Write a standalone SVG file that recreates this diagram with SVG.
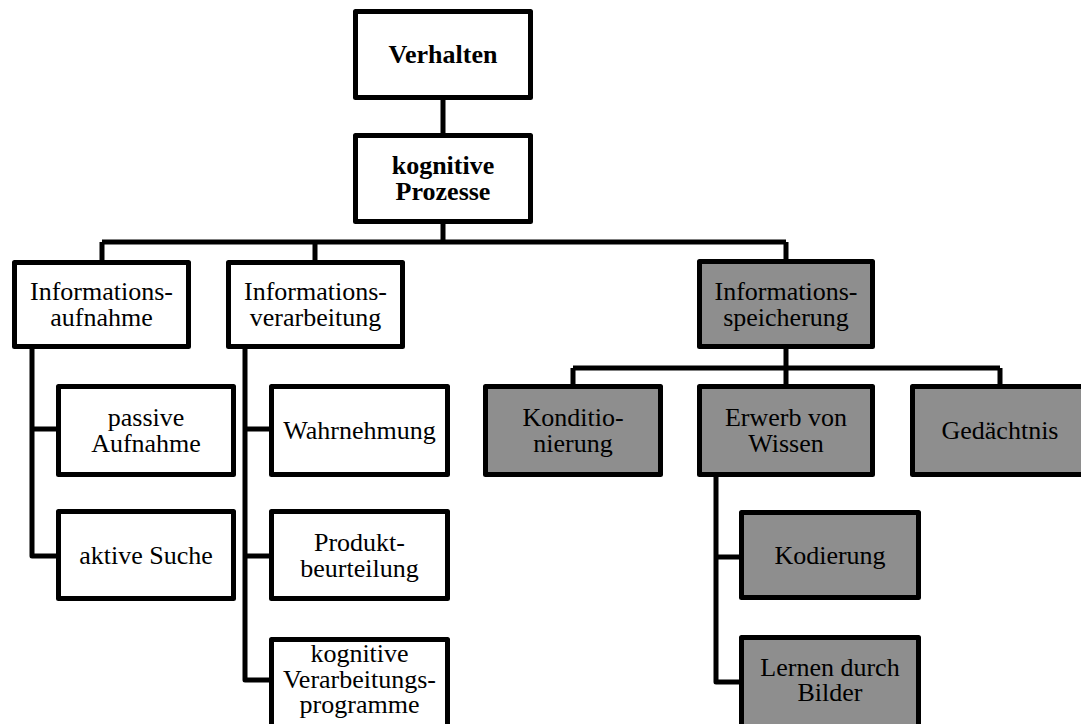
<svg xmlns="http://www.w3.org/2000/svg" width="1081" height="724" viewBox="0 0 1081 724">
<style>
.box{fill:#ffffff;stroke:#000;stroke-width:5;stroke-linejoin:round}
.grey{fill:#8e8e8e}
.c{fill:none;stroke:#000;stroke-width:5;stroke-linejoin:round}
</style>
<rect width="1081" height="724" fill="#fff"/>
<g id="connectors">
<path class="c" d="M443,100V133M443,224V242M102,242H786M102,242V260M315,242V260M786,242V259"/>
<path class="c" d="M32,349V556H56M32,429H56"/>
<path class="c" d="M245,349V680H270M245,429H269M245,556H269"/>
<path class="c" d="M786,349V368M573,368H1000M573,368V384M786,368V384M1000,368V384"/>
<path class="c" d="M716,475V682H740M716,557H740"/>
</g>
<g font-family="'Liberation Serif', 'Times New Roman', 'DejaVu Serif', serif" font-size="26" text-anchor="middle" fill="#000">
<g id="n-verhalten"><rect class="box" x="355.5" y="11.5" width="175" height="86"/><text font-weight="bold" x="443" y="63">Verhalten</text></g>
<g id="n-kognitive-prozesse"><rect class="box" x="355.5" y="135.5" width="175" height="86"/><text font-weight="bold" x="443" y="174">kognitive</text><text font-weight="bold" x="443" y="200">Prozesse</text></g>
<g id="n-informationsaufnahme"><rect class="box" x="14.5" y="262.5" width="174" height="84"/><text x="101.5" y="300">Informations-</text><text x="101.5" y="326">aufnahme</text></g>
<g id="n-informationsverarbeitung"><rect class="box" x="228.5" y="262.5" width="174" height="84"/><text x="315.5" y="300">Informations-</text><text x="315.5" y="326">verarbeitung</text></g>
<g id="n-informationsspeicherung"><rect class="box grey" x="699.5" y="261.5" width="173" height="85"/><text x="786" y="300">Informations-</text><text x="786" y="326">speicherung</text></g>
<g id="n-passive-aufnahme"><rect class="box" x="58.5" y="386.5" width="175" height="88"/><text x="146" y="425.5">passive</text><text x="146" y="451.5">Aufnahme</text></g>
<g id="n-wahrnehmung"><rect class="box" x="271.5" y="386.5" width="176" height="88"/><text x="359.5" y="438.5">Wahrnehmung</text></g>
<g id="n-konditionierung"><rect class="box grey" x="485.5" y="386.5" width="175" height="88"/><text x="573" y="425.5">Konditio-</text><text x="573" y="451.5">nierung</text></g>
<g id="n-erwerb"><rect class="box grey" x="699.5" y="386.5" width="173" height="88"/><text x="786" y="425.5">Erwerb von</text><text x="786" y="451.5">Wissen</text></g>
<g id="n-gedaechtnis"><rect class="box grey" x="912.5" y="386.5" width="175" height="88"/><text x="1000" y="438.5">Gedächtnis</text></g>
<g id="n-aktive-suche"><rect class="box" x="58.5" y="511.5" width="175" height="87"/><text x="146" y="563.5">aktive Suche</text></g>
<g id="n-produktbeurteilung"><rect class="box" x="271.5" y="511.5" width="176" height="87"/><text x="359.5" y="550.5">Produkt-</text><text x="359.5" y="576.5">beurteilung</text></g>
<g id="n-kodierung"><rect class="box grey" x="741.5" y="512.5" width="177" height="85"/><text x="830" y="563.5">Kodierung</text></g>
<g id="n-kognitive-verarbeitungsprogramme"><rect class="box" x="271.5" y="639.5" width="176" height="90"/><text x="359.5" y="662">kognitive</text><text x="359.5" y="687.5">Verarbeitungs-</text><text x="359.5" y="713">programme</text></g>
<g id="n-lernen-durch-bilder"><rect class="box grey" x="741.5" y="637.5" width="177" height="90"/><text x="830" y="676">Lernen durch</text><text x="830" y="701">Bilder</text></g>
</g>
</svg>
